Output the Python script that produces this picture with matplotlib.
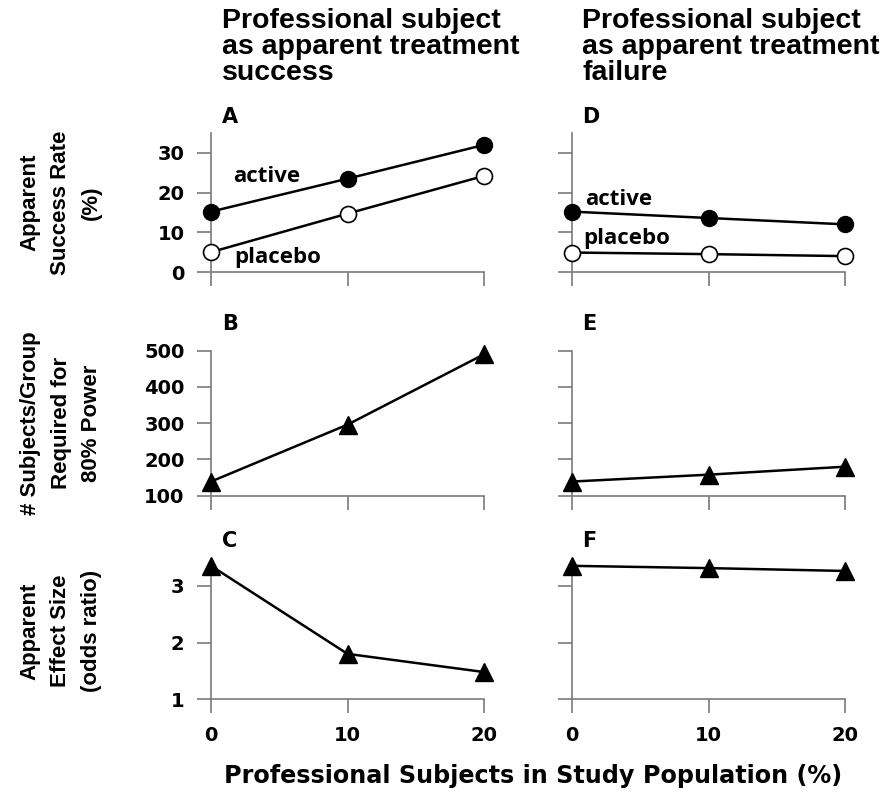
import matplotlib
matplotlib.use("Agg")
import matplotlib.pyplot as plt

# ---- data ----
x_pct = [0, 10, 20]
x_ticks = [0, 10, 20]

# Panel A (professional subject = apparent success)
A_active = [15.2, 23.5, 32.0]
A_placebo = [5.0, 14.7, 24.2]
# Panel D (professional subject = apparent failure)
D_active = [15.2, 13.6, 12.0]
D_placebo = [4.9, 4.5, 4.0]
# Panel B / E: subjects per group required for 80% power
B_n = [139, 296, 490]
E_n = [139, 158, 180]
# Panel C / F: apparent effect size (odds ratio)
C_or = [3.35, 1.80, 1.48]
F_or = [3.35, 3.31, 3.26]

rate_ticks = [0, 10, 20, 30]
n_ticks = [100, 200, 300, 400, 500]
or_ticks = [1, 2, 3]

col_titles = ["Professional subject\nas apparent treatment\nsuccess",
              "Professional subject\nas apparent treatment\nfailure"]
row_labels = ["Apparent\nSuccess Rate\n(%)",
              "# Subjects/Group\nRequired for\n80% Power",
              "Apparent\nEffect Size\n(odds ratio)"]
panel_letters = [["A", "B", "C"], ["D", "E", "F"]]
x_label = "Professional Subjects in Study Population (%)"

W, H = 880, 792
fig = plt.figure(figsize=(W / 100, H / 100), dpi=100)

def px_axes(x0, x1, ytop, ybot):
    return fig.add_axes([x0 / W, 1 - ybot / H, (x1 - x0) / W, (ybot - ytop) / H])

cols = [(211, 484), (572, 845)]
rows = [(133, 272), (350.7, 495.7), (563, 699.3)]
ylims = [(0, 35), (100, 500), (1, 3.4)]
yticks = [rate_ticks, n_ticks, or_ticks]
letter_pos = [[(222, 123), (222, 330), (222, 547)],
              [(582, 123), (582, 330), (582, 547)]]

tick_font = dict(family="DejaVu Sans", weight="bold", size=14)
axcol = "#7a7a7a"

axes = {}
for c, (x0, x1) in enumerate(cols):
    for r, (yt, yb) in enumerate(rows):
        ax = px_axes(x0, x1, yt, yb)
        axes[(c, r)] = ax
        ax.set_xlim(0, 20)
        ax.set_ylim(*ylims[r])
        ax.set_xticks(x_ticks)
        ax.set_yticks(yticks[r])
        for s in ["top", "right"]:
            ax.spines[s].set_visible(False)
        for s in ["left", "bottom"]:
            ax.spines[s].set_color(axcol)
            ax.spines[s].set_linewidth(1.2)
        ax.tick_params(axis="both", direction="out", length=10, width=1.2,
                       color=axcol, pad=9)
        if c == 0:
            ax.set_yticklabels([str(t) for t in yticks[r]], fontdict=tick_font)
        else:
            ax.set_yticklabels([])
        if r == 2:
            ax.set_xticklabels([str(t) for t in x_ticks], fontdict=tick_font)
        else:
            ax.set_xticklabels([])
        ax.patch.set_alpha(0)
        lx, ly = letter_pos[c][r]
        fig.text(lx / W, 1 - ly / H, panel_letters[c][r], fontsize=15,
                 fontweight="bold", family="DejaVu Sans", va="baseline", ha="left")

lw = 1.8
ms_c = 11.5
ms_t = 13
lab_font = dict(fontsize=16, fontweight="bold", family="Open Sans",
                va="center", ha="left")
# A
ax = axes[(0, 0)]
ax.plot(x_pct, A_active, "-o", color="black", lw=lw, ms=ms_c, mfc="black",
        mec="black", clip_on=False, zorder=5)
ax.plot(x_pct, A_placebo, "-o", color="black", lw=lw, ms=ms_c, mfc="white",
        mec="black", mew=1.2, clip_on=False, zorder=5)
ax.text(1.6, 24.0, "active", **lab_font)
ax.text(1.7, 3.6, "placebo", **lab_font)
# D
ax = axes[(1, 0)]
ax.plot(x_pct, D_active, "-o", color="black", lw=lw, ms=ms_c, mfc="black",
        mec="black", clip_on=False, zorder=5)
ax.plot(x_pct, D_placebo, "-o", color="black", lw=lw, ms=ms_c, mfc="white",
        mec="black", mew=1.2, clip_on=False, zorder=5)
ax.text(0.95, 18.3, "active", **lab_font)
ax.text(0.8, 8.5, "placebo", **lab_font)
# B, E, C, F
for key, vals in [((0, 1), B_n), ((1, 1), E_n), ((0, 2), C_or), ((1, 2), F_or)]:
    axes[key].plot(x_pct, vals, "-^", color="black", lw=lw, ms=ms_t, mfc="black",
                   mec="black", clip_on=False, zorder=5)

# column titles
for tx, title in zip([222, 582], col_titles):
    fig.text(tx / W, 1 - 8 / H, title, fontsize=20.5, fontweight="bold",
             family="Liberation Sans", va="top", ha="left", linespacing=1.0)

# row labels
for r, (yt, yb) in enumerate(rows):
    fig.text(61 / W, 1 - ((yt + yb) / 2) / H, row_labels[r], rotation=90,
             fontsize=16, fontweight="bold", family="Liberation Sans",
             va="center", ha="center", linespacing=1.6)

fig.text(533 / W, 1 - 776 / H, x_label, fontsize=17.2, fontweight="bold",
         family="DejaVu Sans", va="center", ha="center")

fig.savefig("out.png", dpi=100)
